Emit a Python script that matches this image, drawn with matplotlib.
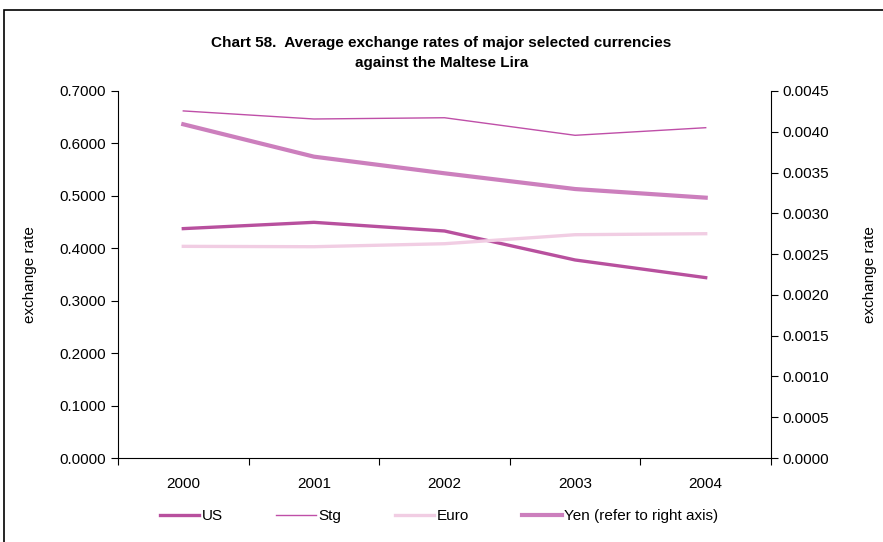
import matplotlib
matplotlib.use('Agg')
import matplotlib.pyplot as plt
from matplotlib.patches import Rectangle

# Data
years = ['2000', '2001', '2002', '2003', '2004']
us = [0.4375, 0.4495, 0.4330, 0.3777, 0.3440]
stg = [0.6620, 0.6466, 0.6490, 0.6155, 0.6300]
euro = [0.4037, 0.4030, 0.4087, 0.4259, 0.4278]
yen = [0.004092, 0.003695, 0.003491, 0.003298, 0.003192]

left_ticks = [0.0, 0.1, 0.2, 0.3, 0.4, 0.5, 0.6, 0.7]
right_ticks = [0.0, 0.0005, 0.001, 0.0015, 0.002, 0.0025, 0.003, 0.0035, 0.004, 0.0045]

plt.rcParams['font.family'] = ['Liberation Sans', 'DejaVu Sans']

fig = plt.figure(figsize=(8.83, 5.42), dpi=100)
ax = fig.add_axes([118 / 883, 1 - 458 / 542, (771 - 118) / 883, (458 - 91) / 542])
ax2 = ax.twinx()

# outer frame of the chart
fig.patches.append(Rectangle((4 / 883, -0.1), 1.1, 1.1 - 10 / 542,
                             transform=fig.transFigure, fill=False,
                             edgecolor='black', linewidth=1.2, clip_on=False))

x = list(range(len(years)))
l1, = ax.plot(x, us, color='#b8509e', linewidth=2.4, label='US')
l2, = ax.plot(x, stg, color='#bf4fa8', linewidth=1.0, label='Stg')
l3, = ax.plot(x, euro, color='#f1cde3', linewidth=2.4, label='Euro')
l4, = ax2.plot(x, yen, color='#cc7fbd', linewidth=3.0, label='Yen (refer to right axis)')

ax.set_xlim(-0.5, len(years) - 0.5)
ax.set_ylim(0, 0.7)
ax2.set_ylim(0, 0.0045)
ax.set_yticks(left_ticks)
ax.set_yticklabels([f'{v:.4f}' for v in left_ticks])
ax2.set_yticks(right_ticks)
ax2.set_yticklabels([f'{v:.4f}' for v in right_ticks])

# category labels centred, tick marks between categories
ax.set_xticks([i - 0.5 for i in range(len(years) + 1)])
ax.set_xticklabels([])
ax.set_xticks(x, minor=True)
ax.set_xticklabels(years, minor=True)
ax.tick_params(axis='x', which='minor', length=0, pad=14, labelsize=11)
ax.tick_params(axis='x', which='major', length=5, direction='out')
ax.tick_params(axis='y', length=5, direction='out', labelsize=11)
ax2.tick_params(axis='y', length=5, direction='out', labelsize=11)

for a in (ax, ax2):
    a.spines['top'].set_visible(False)
ax.spines['right'].set_visible(False)
ax2.spines['left'].set_visible(False)
ax2.spines['bottom'].set_visible(False)

ax.set_ylabel('exchange rate', fontsize=11, labelpad=16)
ax2.set_ylabel('exchange rate', fontsize=11, labelpad=24)

fig.text(0.5, 1 - 53 / 542, 'Chart 58.  Average exchange rates of major selected currencies\nagainst the Maltese Lira',
         ha='center', va='center', fontsize=11, fontweight='bold', linespacing=1.5)

fig.legend(handles=[l1, l2, l3, l4], loc='center', bbox_to_anchor=(439 / 883, 1 - 516 / 542),
           ncol=4, frameon=False, fontsize=11, handlelength=2.6, handletextpad=0.15,
           columnspacing=3.5)

fig.savefig('out.png', dpi=100)
